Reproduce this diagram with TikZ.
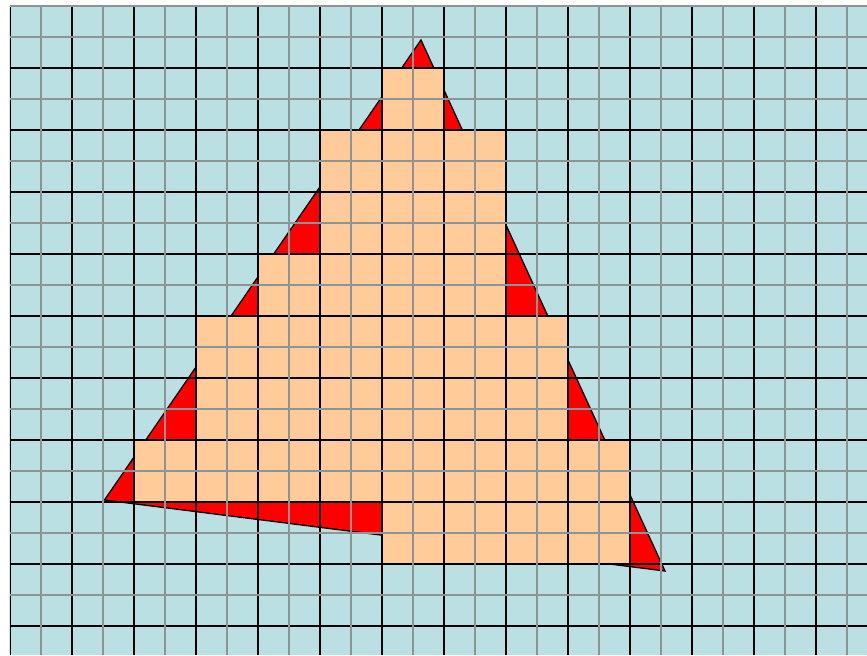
\documentclass[tikz,border=0pt]{standalone}
\usepackage{tikz}
\usetikzlibrary{arrows.meta}

\definecolor{bgBlue}{RGB}{186,224,227}
\definecolor{pixOrange}{RGB}{255,204,153}
\definecolor{lineGray}{RGB}{140,148,148}

\begin{document}
\begin{tikzpicture}[x=1cm,y=-1cm]
		\begin{scope}
			[
				styleCoarse/.style={draw=black, line width=0.8pt},
				styleFine/.style={draw=lineGray, line width=0.6pt},
				styleTri/.style={fill=red, draw=black, line width=0.6pt, line join=miter},
				stylePixel/.style={fill=pixOrange},
			]
			\useasboundingbox (-0.161,-0.097) rectangle (13.823,10.468);
			\clip (0,-0.02) rectangle (13.823,10.468);
			\fill[bgBlue] (0,0) rectangle (13.823,10.468);

			% triangle
			\coordinate (apex) at (6.629,0.548);
			\coordinate (vLeft) at (1.524,7.968);
			\coordinate (vRight) at (10.565,9.113);
			\draw[styleTri] (apex) -- (vLeft) -- (vRight) -- cycle;

			% covered pixels
			\foreach \row/\first/\last in {1/6/6,2/5/7,3/5/7,4/4/7,5/3/8,6/3/8,7/2/9,8/6/9}
				\fill[stylePixel] (\first,\row) rectangle (\last+1,\row+1);

			% grid
			\foreach \i in {0,...,13}
				\draw[styleCoarse] (\i,0) -- (\i,10.468);
			\foreach \j in {1,...,10}
				\draw[styleCoarse] (0,\j) -- (13.823,\j);
			\foreach \i in {0,...,13}
				\draw[styleFine] (\i+0.5,0) -- (\i+0.5,10.468);
			\draw[styleFine] (0,0) -- (13.823,0);
			\foreach \j in {0,...,9}
				\draw[styleFine] (0,\j+0.5) -- (13.823,\j+0.5);
		\end{scope}
\end{tikzpicture}
\end{document}
